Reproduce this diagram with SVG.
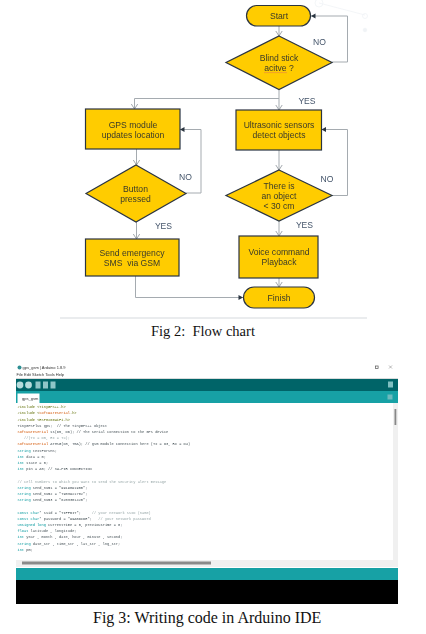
<svg xmlns="http://www.w3.org/2000/svg" width="426" height="634" viewBox="0 0 426 634">
<style>
.n{fill:#ffcc00;stroke:#2b3440;stroke-width:1.2}
.t{font-family:"Liberation Sans",Arial,sans-serif;font-size:8.6px;fill:#3a3a2a;text-anchor:middle;white-space:pre}
.l{font-family:"Liberation Sans",Arial,sans-serif;font-size:8.6px;fill:#44546a;text-anchor:middle}
.c{fill:none;stroke:#a5abb0;stroke-width:1}
.cap{font-family:"Liberation Serif","Times New Roman",serif;font-size:14.5px;fill:#111;white-space:pre}
.k{font-family:"Liberation Mono","Courier New",monospace;font-size:3.65px;fill:#5e6d03;white-space:pre}
.o{fill:#d35400}.b{fill:#00979c}.g{fill:#95a5a6}.d{fill:#434f54}
.ui{font-family:"Liberation Sans",Arial,sans-serif;font-size:4px;fill:#333}
</style>
<defs>
<marker id="open" markerWidth="8" markerHeight="8" refX="6" refY="4" orient="auto" markerUnits="userSpaceOnUse"><path d="M1 0.8L6 4L1 7.2" fill="none" stroke="#8d949a" stroke-width="0.8"/></marker>
<marker id="solid" markerWidth="6" markerHeight="6" refX="5" refY="3" orient="auto" markerUnits="userSpaceOnUse"><path d="M0.5 0.5L5 3L0.5 5.5Z" fill="#2b3440"/></marker>
<filter id="soft" x="-5%" y="-5%" width="110%" height="110%"><feGaussianBlur stdDeviation="0.3"/></filter>
<filter id="softer" x="-5%" y="-5%" width="110%" height="110%"><feGaussianBlur stdDeviation="0.4"/></filter>
</defs>
<rect width="426" height="634" fill="#fff"/>
<g opacity="0.25" fill="none" stroke="#c5d0dc" stroke-width="0.8"><path d="M319 3L365 15"/><circle cx="319" cy="3" r="4"/><circle cx="365" cy="16" r="2.5"/><circle cx="365" cy="30" r="1.8" fill="#c5d0dc"/></g>
<path d="M60 318H367" stroke="#e3e6e8" stroke-width="1.4"/>
<g filter="url(#soft)">
<g id="connectors">
<path class="c" marker-end="url(#open)" d="M279 26V36"/>
<path class="c" marker-end="url(#open)" d="M279 89V110"/>
<path class="c" marker-end="url(#open)" d="M279 98.5H134.5V109"/>
<path class="c" marker-end="url(#solid)" d="M332 62H347.5V16H311"/>
<path class="c" marker-end="url(#open)" d="M136.5 149V165"/>
<path class="c" marker-end="url(#solid)" d="M186 193H201V129.5H180"/>
<path class="c" marker-end="url(#open)" d="M279 150V170"/>
<path class="c" marker-end="url(#solid)" d="M332 195.5H347.5V129.5H321.5"/>
<path class="c" marker-end="url(#open)" d="M136.5 222V239"/>
<path class="c" marker-end="url(#open)" d="M279 221V236"/>
<path class="c" marker-end="url(#open)" d="M279 278V287"/>
<path class="c" marker-end="url(#solid)" d="M135.5 276V297.5H243"/>
</g>
<g id="labels">
<text class="l" x="319.5" y="45">NO</text>
<text class="l" x="307" y="104">YES</text>
<text class="l" x="185.5" y="180">NO</text>
<text class="l" x="163.5" y="229">YES</text>
<text class="l" x="327" y="182">NO</text>
<text class="l" x="304.5" y="228">YES</text>
</g>
<g id="start"><rect class="n" x="246.5" y="5.5" width="64" height="20.5" rx="10.2"/><text class="t" x="279" y="19">Start</text></g>
<g id="active"><path class="n" d="M279 36L332 62.5L279 89.5L226 62.5Z"/><text class="t" x="279" y="61">Blind stick</text><text class="t" x="279" y="71">acitve ?</text><path d="M264 72.6H287" stroke="#e8834a" stroke-width="0.6"/></g>
<g id="gps"><rect class="n" x="85.5" y="109" width="94.5" height="40"/><text class="t" x="133" y="128">GPS module</text><text class="t" x="133" y="138">updates location</text></g>
<g id="ultrasonic"><rect class="n" x="236" y="110" width="85.5" height="40"/><text class="t" x="279" y="128">Ultrasonic sensors</text><text class="t" x="279" y="138">detect objects</text></g>
<g id="button"><path class="n" d="M136 165L186 193.5L136 222L86 193.5Z"/><text class="t" x="135.5" y="192">Button</text><text class="t" x="135.5" y="202">pressed</text></g>
<g id="object"><path class="n" d="M279 170L332 195.5L279 221L226 195.5Z"/><text class="t" x="279" y="189">There is</text><text class="t" x="279" y="199">an object</text><text class="t" x="279" y="209">&lt; 30 cm</text></g>
<g id="sms"><rect class="n" x="85.5" y="239" width="93.5" height="37"/><text class="t" x="132" y="256">Send emergency</text><text class="t" x="132" y="266">SMS  via GSM</text></g>
<g id="voice"><rect class="n" x="239" y="236" width="79" height="42"/><text class="t" x="279" y="255">Voice command</text><text class="t" x="279" y="265">Playback</text></g>
<g id="finish"><rect class="n" x="243.5" y="287" width="71" height="21" rx="10.5"/><text class="t" x="279" y="300.500">Finish</text></g>
</g>
<text class="cap" x="151" y="336">Fig 2:  Flow chart</text>
<g id="ide">
<rect x="16" y="378" width="382" height="1" fill="#d8dcdc"/>
<rect x="16" y="379" width="382" height="12" fill="#006468"/>
<rect x="16" y="391" width="382" height="12" fill="#17a1a5"/>
<rect x="16" y="403" width="382" height="157" fill="#fff"/>
<rect x="393" y="403" width="5" height="157" fill="#f0f0f0"/>
<rect x="394.500" y="409" width="1.8" height="16" fill="#888"/>
<rect x="16" y="560" width="382" height="7" fill="#f0f0f0"/>
<rect x="22" y="561.500" width="189" height="3" fill="#8a8a8a"/>
<rect x="16" y="568" width="382" height="12" fill="#17a1a5"/>
<rect x="16" y="580" width="382" height="24" fill="#000"/>
<rect x="17.500" y="393.500" width="22" height="9.500" fill="#fff"/>
<g filter="url(#softer)">
<circle cx="19.500" cy="367.500" r="2" fill="#2f8f93"/>
<text class="ui" x="22.500" y="369">gps_gsm | Arduino 1.8.9</text>
<text class="ui" x="16.500" y="376">File Edit Sketch Tools Help</text>
<circle cx="20" cy="385" r="3.400" fill="#b7dcdd"/><circle cx="28.500" cy="385" r="3.400" fill="#b7dcdd"/>
<rect x="35.500" y="381.500" width="5" height="7" fill="#8fc6c8"/><rect x="43" y="381.500" width="5" height="7" fill="#8fc6c8"/><rect x="50.500" y="381.500" width="5" height="7" fill="#8fc6c8"/>
<rect x="388" y="381.500" width="5" height="6" fill="#7fbfc1"/><rect x="387.500" y="394.500" width="5" height="5" fill="#6dbabd"/>
<text class="ui" x="22" y="400">gps_gsm</text>
<rect x="375.500" y="366" width="2.600" height="2.600" fill="none" stroke="#555" stroke-width="0.7"/>
<path d="M389 365.500L392 368.500M392 365.500L389 368.500" stroke="#777" stroke-width="0.5"/>
<text class="k" x="17.500" y="408.200">#include &lt;TinyGPS++.h&gt;</text>
<text class="k" x="17.500" y="414.400">#include &lt;<tspan class="o">SoftwareSerial</tspan>.h&gt;</text>
<text class="k" x="17.500" y="420.600">#include &lt;ESP8266WiFi.h&gt;</text>
<text class="k d" x="17.500" y="426.800">TinyGPSPlus gps;  // The TinyGPS++ object</text>
<text class="k d" x="17.500" y="433"><tspan class="o">SoftwareSerial</tspan> ss(D5, D6); // The serial connection to the GPS device</text>
<text class="k g" x="17.500" y="439.200">   //(Tx = D5, Rx = TX);</text>
<text class="k d" x="17.500" y="445.400"><tspan class="o">SoftwareSerial</tspan> ATMSG(D3, 7mA); // gsm module connection here (Tx = D3, Rx = D4)</text>
<text class="k d" x="17.500" y="451.600"><tspan class="b">String</tspan> textForSMS;</text>
<text class="k d" x="17.500" y="457.800"><tspan class="b">int</tspan> data = 0;</text>
<text class="k d" x="17.500" y="464"><tspan class="b">int</tspan> state = 0;</text>
<text class="k d" x="17.500" y="470.200"><tspan class="b">int</tspan> pin = A0; // SW-PIR CONNECTION</text>
<text class="k g" x="17.500" y="482.600">// cell numbers to which you want to send the security alert message</text>
<text class="k d" x="17.500" y="488.800"><tspan class="b">String</tspan> send_num1 = "9919891900";</text>
<text class="k d" x="17.500" y="495"><tspan class="b">String</tspan> send_num2 = "7903921782";</text>
<text class="k d" x="17.500" y="501.200"><tspan class="b">String</tspan> send_num3 = "6203301420";</text>
<text class="k d" x="17.500" y="513.600"><tspan class="b">const char</tspan>* ssid = "TIFFBIT";     <tspan class="g">// your network SSID (name)</tspan></text>
<text class="k d" x="17.500" y="519.800"><tspan class="b">const char</tspan>* password = "99ABDCDE";   <tspan class="g">// your network password</tspan></text>
<text class="k d" x="17.500" y="526"><tspan class="b">unsigned long</tspan> currentTime = 0, previousTime = 0;</text>
<text class="k d" x="17.500" y="532.200"><tspan class="b">float</tspan> latitude , longitude;</text>
<text class="k d" x="17.500" y="538.400"><tspan class="b">int</tspan> year , month , date, hour , minute , second;</text>
<text class="k d" x="17.500" y="544.600"><tspan class="b">String</tspan> date_str , time_str , lat_str , lng_str;</text>
<text class="k d" x="17.500" y="550.800"><tspan class="b">int</tspan> pm;</text>
</g>
</g>
<text class="cap" x="93" y="622.500" style="font-size:16px">Fig 3: Writing code in Arduino IDE</text>
</svg>
